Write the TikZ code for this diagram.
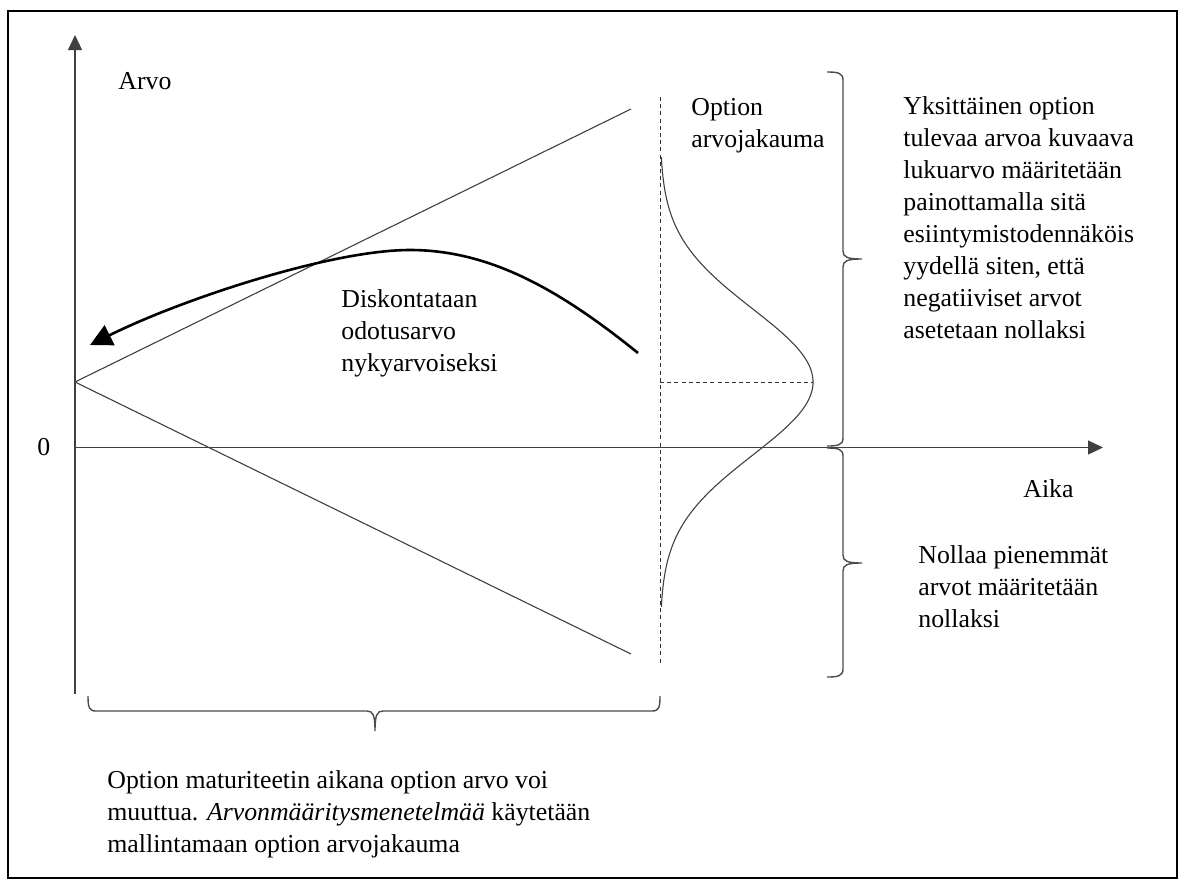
\documentclass[tikz,border=0pt]{standalone}
\usepackage{fontspec}
\setmainfont{Liberation Serif}
\usetikzlibrary{arrows.meta}
\tikzset{
  txt/.style={font=\fontsize{12.9}{16}\selectfont, inner sep=0pt, align=left, anchor=base west},
  axis/.style={black!75, line width=0.6pt, -{Triangle[length=7.5pt,width=7pt]}},
  thinln/.style={black!75, line width=0.55pt},
  dashln/.style={black!80, line width=0.5pt, dash pattern=on 2pt off 1.6pt},
  brc/.style={black!70, line width=0.7pt},
}
\begin{document}
\begin{tikzpicture}[x=0.5pt, y=-0.5pt]
\useasboundingbox (0,0) rectangle (1186,889);
\draw[line width=1pt] (8,11) rectangle (1177,878);
% axes
\coordinate (ybot) at (75,694); \coordinate (ytop) at (75,35);
\coordinate (O) at (75,447.5); \coordinate (xend) at (1103,447.5);
\draw[axis] (ybot) -- (ytop);
\draw[axis] (O) -- (xend);
\node[txt] (arvo) at (118,89) {Arvo};
\node[txt] (nolla) at (37,455) {0};
\node[txt] (aika) at (1023,497) {Aika};
% cone of values
\coordinate (S) at (75,382); \coordinate (up) at (631,109); \coordinate (lo) at (631,654);
\draw[thinln] (up) -- (S) -- (lo);
% distribution at maturity
\coordinate (dtop) at (660,97); \coordinate (dbot) at (660,663);
\coordinate (mu) at (660,382); \coordinate (pk) at (813,382);
\draw[dashln] (dtop) -- (dbot);
\draw[dashln] (mu) -- (pk);
\draw[thinln] plot[domain=-3.08:3.08, samples=90, smooth] ({660+153*exp(-0.5*\x*\x)}, {382+73*\x});
\node[txt] (jak) at (691,147) {Option\\arvojakauma};
% discounting
\coordinate (e1) at (638,353); \coordinate (top) at (410,250); \coordinate (tip) at (90,345);
\draw[line width=1.3pt, -{Triangle[length=11pt,width=11pt]}] (e1) .. controls (560,290) and (490,250) .. (top) .. controls (330,250) and (180,300) .. (tip);
\node[txt] (disk) at (341,371) {Diskontataan\\odotusarvo\\nykyarvoiseksi};
% braces
\draw[brc] (827,72) .. controls (838,72) and (843,73) .. (843,80) -- (843,251) .. controls (843,257) and (847,259) .. (862,259)
  .. controls (847,259) and (843,261) .. (843,267) -- (843,438) .. controls (843,445) and (838,446) .. (827,446);
\draw[brc] (827,448) .. controls (838,448) and (843,449) .. (843,456) -- (843,555) .. controls (843,561) and (847,563) .. (862,563)
  .. controls (847,563) and (843,565) .. (843,571) -- (843,669) .. controls (843,676) and (838,677) .. (827,677);
\draw[brc] (88,696) .. controls (88,707) and (89,711) .. (96,711) -- (367,711) .. controls (373,711) and (375,715) .. (375,731)
  .. controls (375,715) and (377,711) .. (383,711) -- (652,711) .. controls (659,711) and (660,707) .. (660,696);
\node[txt] (ylin) at (903,338) {Yksittäinen option\\tulevaa arvoa kuvaava\\lukuarvo määritetään\\painottamalla sitä\\esiintymistodennäköis\\yydellä siten, että\\negatiiviset arvot\\asetetaan nollaksi};
\node[txt] (alin) at (918,627) {Nollaa pienemmät\\arvot määritetään\\nollaksi};
\node[txt] (matur) at (107,852) {Option maturiteetin aikana option arvo voi\\muuttua. \textit{Arvonmääritysmenetelmää} käytetään\\mallintamaan option arvojakauma};
\end{tikzpicture}
\end{document}
